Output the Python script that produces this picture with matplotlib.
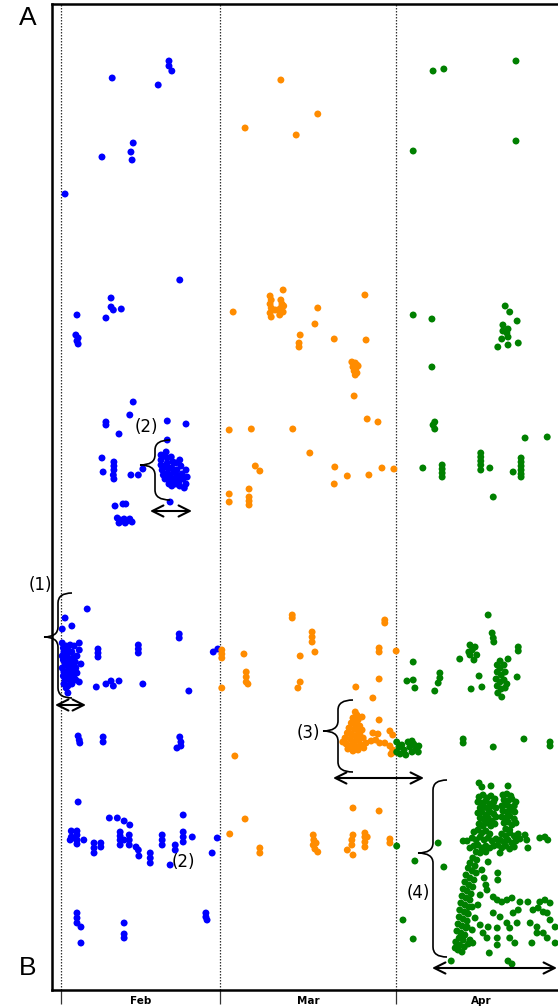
import numpy as np
import matplotlib.pyplot as plt
import matplotlib.transforms as mtransforms
from matplotlib.path import Path
from matplotlib.patches import PathPatch

# x = days since 1 Feb, y = position between A (top) and B (bottom)
month_starts = [0, 28, 59]
month_mids = [14, 43.5, 74]
month_names = ["Feb", "Mar", "Apr"]

feb_pts = [
    (9.0, 78), (17.1, 85), (19.0, 61), (19.0, 66), (19.5, 71), (12.7, 143), (12.3, 152), (12.5, 160),
    (7.2, 157), (0.7, 194), (20.9, 280), (2.8, 315), (8.8, 298), (8.8, 307), (9.2, 310), (10.6, 309),
    (7.9, 318), (2.6, 335), (3.0, 338), (2.8, 341), (3.0, 344),
    (12.7, 402), (12.1, 415), (7.9, 422), (7.9, 425), (10.2, 434), (18.7, 421), (22.0, 424), (18.7, 440),
    (7.2, 458), (7.4, 472), (9.3, 462), (9.3, 466), (9.3, 470), (9.2, 475), (9.3, 479), (12.3, 475),
    (13.6, 475), (14.4, 469),
    (17.6, 455), (17.6, 460), (17.6, 465), (17.8, 470), (18.0, 456), (18.5, 452), (18.7, 458), (18.7, 463),
    (18.8, 468), (18.8, 473), (19.2, 476), (19.4, 480), (19.5, 468), (19.7, 462), (19.9, 472), (20.1, 478),
    (20.2, 484), (20.4, 470), (20.6, 476), (20.8, 481), (20.9, 486), (21.1, 466), (21.3, 474), (21.5, 479),
    (21.7, 488), (22.0, 470), (22.2, 477), (22.0, 484), (18.0, 475), (18.3, 479), (19.0, 484), (19.5, 486),
    (18.5, 466), (19.4, 457), (20.9, 460), (20.2, 463),
    (19.2, 502), (9.5, 506), (10.9, 504), (11.4, 504), (9.9, 518), (10.4, 520), (11.1, 519), (11.6, 521),
    (12.1, 519), (12.5, 522), (10.2, 523), (11.3, 523),
    (4.6, 609), (0.7, 618), (1.9, 626), (0.2, 629),
    (0.2, 643), (0.4, 648), (0.5, 652), (0.2, 656), (0.4, 660), (0.7, 664), (0.2, 668), (0.5, 672),
    (0.4, 676), (0.7, 680), (0.5, 684), (0.9, 688), (1.2, 693), (0.9, 646), (1.2, 650), (1.1, 656),
    (1.4, 661), (1.2, 666), (1.1, 671), (1.4, 676), (1.6, 681), (1.2, 686), (1.9, 652), (2.1, 658),
    (1.8, 664), (2.1, 669), (1.9, 674), (2.3, 678), (1.9, 684), (2.5, 662), (2.6, 668), (2.8, 673),
    (2.6, 680), (3.2, 643), (3.2, 650), (3.5, 664), (3.2, 682), (2.3, 646), (1.6, 645), (2.8, 656),
    (6.5, 649), (6.5, 653), (6.5, 657), (13.6, 645), (13.6, 649), (13.6, 653), (20.8, 634), (20.8, 638),
    (6.2, 687), (7.9, 684), (8.8, 681), (9.2, 686), (10.2, 681), (14.4, 684), (22.5, 691), (26.8, 652),
    (27.6, 649),
    (3.0, 736), (3.2, 740), (3.3, 743), (7.4, 737), (7.4, 742), (20.9, 737), (21.1, 742), (20.4, 748),
    (21.1, 746),
    (3.0, 802), (8.5, 818), (9.9, 818), (11.1, 821), (12.1, 825), (21.5, 815), (1.8, 831), (1.8, 837),
    (1.6, 840), (2.8, 831), (2.8, 835), (2.8, 840), (2.8, 844), (2.1, 838), (4.0, 840), (5.8, 843),
    (5.8, 848), (5.8, 853), (7.0, 843), (7.0, 847), (10.4, 832), (10.4, 836), (10.4, 840), (10.4, 845),
    (12.0, 835), (12.0, 840), (12.0, 845), (11.1, 840), (13.2, 847), (13.6, 850), (13.7, 856), (15.7, 853),
    (15.7, 858), (15.7, 863), (17.8, 835), (17.8, 840), (17.8, 845), (20.1, 845), (20.1, 850), (19.2, 865),
    (21.5, 832), (21.5, 837), (21.5, 842), (23.1, 837), (26.6, 853), (27.5, 838),
    (2.8, 913), (2.8, 918), (2.8, 923), (3.5, 927), (3.5, 943), (11.1, 923), (11.1, 934), (11.1, 938),
    (25.5, 913), (25.5, 917), (25.7, 920),
]

mar_pts = [
    (38.7, 80), (32.4, 128), (45.2, 114), (41.4, 135),
    (53.5, 295), (39.1, 290), (36.8, 296), (37.0, 300), (36.8, 304), (37.0, 308), (36.8, 313), (37.0, 317),
    (38.7, 300), (38.9, 304), (38.7, 308), (39.1, 312), (38.5, 315), (39.2, 306), (38.2, 310), (37.7, 310),
    (30.3, 312), (45.2, 308), (44.7, 324), (42.1, 335), (41.9, 343), (41.9, 347), (48.1, 339), (53.7, 340),
    (51.2, 362), (51.8, 363), (52.1, 365), (51.4, 367), (51.9, 369), (51.6, 371), (52.1, 373), (51.8, 375),
    (52.3, 366), (51.6, 396), (53.9, 419), (55.8, 422),
    (29.6, 430), (33.5, 429), (40.8, 429), (43.8, 453), (34.2, 466), (35.0, 471), (48.2, 467), (50.4, 476),
    (54.2, 475), (56.5, 468), (58.6, 469), (48.1, 484), (29.6, 494), (29.6, 502), (33.1, 489), (33.1, 497),
    (33.1, 501), (33.1, 505),
    (28.3, 650), (28.3, 654), (28.3, 658), (28.3, 688), (32.2, 654), (32.6, 672), (32.6, 677), (32.6, 682),
    (32.9, 684), (40.7, 615), (40.7, 618), (44.2, 632), (44.2, 637), (44.2, 642), (44.7, 652), (42.1, 656),
    (42.1, 682), (41.7, 688), (57.0, 620), (57.0, 623), (56.0, 648), (56.0, 652), (59.0, 651), (56.0, 679),
    (51.9, 687), (54.9, 698), (56.0, 720), (53.0, 717), (30.6, 756),
    (51.8, 712), (52.1, 715), (51.4, 718), (52.3, 720), (51.1, 723), (51.9, 724), (52.6, 726), (50.7, 728),
    (51.6, 729), (52.3, 731), (50.4, 733), (51.2, 734), (51.9, 736), (52.6, 734), (50.0, 738), (50.9, 739),
    (51.8, 741), (52.5, 740), (53.2, 738), (50.2, 744), (51.1, 745), (51.9, 746), (52.8, 745), (50.5, 749),
    (51.4, 751), (52.3, 750), (53.3, 748), (53.7, 743), (49.6, 742), (53.0, 730),
    (54.9, 733), (55.8, 734), (55.4, 740), (56.1, 743), (54.6, 741), (57.0, 743), (57.9, 731), (58.4, 735),
    (57.9, 746), (58.4, 750), (58.1, 754), (58.8, 752),
    (51.4, 808), (56.0, 811), (44.4, 835), (44.5, 840), (44.4, 845), (44.7, 849), (45.2, 852), (44.9, 843),
    (51.4, 835), (51.2, 840), (51.2, 845), (50.4, 850), (51.4, 855), (53.5, 833), (53.5, 837), (53.5, 842),
    (53.5, 847), (53.9, 837), (57.9, 839), (57.9, 843), (29.7, 834), (32.4, 819), (35.0, 848), (35.0, 853),
]

apr_pts = [
    (65.5, 71), (67.4, 69), (80.1, 61), (62.0, 151), (80.1, 141),
    (62.0, 315), (65.3, 319), (78.2, 306), (79.0, 312), (80.3, 321), (77.8, 325), (77.8, 331), (78.7, 329),
    (78.5, 333), (78.7, 337), (77.6, 339), (80.5, 343), (78.7, 345), (76.9, 347), (65.3, 367),
    (65.8, 422), (65.5, 425), (65.8, 429), (81.7, 438), (85.6, 437), (63.7, 468), (67.1, 465), (67.1, 469),
    (67.1, 473), (67.1, 477), (73.9, 453), (73.9, 457), (73.9, 461), (73.9, 465), (73.9, 470), (75.5, 468),
    (81.0, 458), (81.0, 462), (81.0, 466), (81.0, 470), (81.0, 474), (81.0, 477), (79.6, 472), (76.1, 497),
    (75.2, 615), (75.9, 633), (76.1, 638), (76.2, 642), (72.0, 645), (72.4, 650), (72.0, 655), (72.7, 660),
    (71.8, 652), (72.9, 647), (73.2, 655), (70.2, 659), (80.5, 647), (80.5, 651), (78.7, 659), (62.0, 662),
    (60.9, 681), (62.0, 680), (62.3, 688), (66.7, 673), (66.7, 678), (66.4, 683), (65.8, 691), (73.6, 676),
    (72.2, 689), (74.1, 687), (80.3, 677),
    (76.8, 665), (77.3, 668), (78.0, 665), (76.8, 672), (77.5, 675), (78.2, 672), (76.6, 679), (77.3, 682),
    (78.0, 680), (78.5, 684), (76.8, 686), (77.5, 689), (78.2, 688), (76.9, 693), (77.6, 697), (77.3, 661),
    (59.1, 742), (59.5, 747), (59.1, 752), (60.0, 745), (60.4, 750), (61.1, 742), (61.4, 747), (61.8, 752),
    (62.1, 744), (62.5, 749), (63.0, 746), (62.9, 752), (60.7, 755), (59.7, 754), (61.8, 741), (70.8, 739),
    (70.8, 743), (76.1, 747), (81.5, 739), (86.1, 742), (86.1, 746),
    (59.1, 846), (66.4, 843), (62.3, 861), (67.4, 867), (60.2, 920), (62.0, 939), (73.6, 783), (74.1, 787),
    (75.7, 786), (78.7, 786), (68.7, 961), (78.7, 961), (79.4, 964),
    (73.6, 797), (74.3, 795), (75.0, 798), (75.7, 796), (76.4, 799), (73.4, 802), (74.1, 803), (74.8, 801),
    (75.5, 804), (76.2, 802), (73.8, 808), (74.5, 807), (75.2, 809), (75.9, 806), (76.6, 808), (73.4, 813),
    (74.1, 812), (74.8, 815), (75.5, 812), (76.2, 814), (73.8, 818), (74.5, 820), (75.2, 818), (75.9, 821),
    (76.6, 817), (73.6, 824), (74.3, 826), (75.0, 823), (75.7, 826), (76.4, 824),
    (77.8, 795), (78.5, 794), (79.2, 796), (78.0, 800), (78.7, 801), (79.4, 799), (80.1, 802), (77.6, 806),
    (78.3, 805), (79.0, 807), (79.8, 806), (77.8, 811), (78.5, 812), (79.2, 810), (79.9, 812), (77.6, 817),
    (78.3, 818), (79.0, 816), (79.8, 819), (78.0, 823), (78.7, 822), (79.4, 825), (80.1, 823), (78.3, 829),
    (79.0, 830),
    (72.7, 832), (73.4, 830), (74.1, 833), (74.8, 831), (75.5, 834), (77.6, 834), (78.3, 836), (79.0, 833),
    (79.8, 836), (80.5, 834), (72.4, 838), (73.1, 840), (73.8, 837), (74.5, 840), (75.2, 838), (75.9, 841),
    (76.6, 839), (77.3, 840), (78.0, 842), (78.7, 840), (79.4, 843), (80.1, 841), (80.8, 839), (72.7, 846),
    (73.4, 845), (74.1, 848), (74.8, 846), (75.5, 848), (76.2, 846), (76.9, 845), (77.6, 848), (78.3, 846),
    (79.0, 849), (79.8, 847), (73.1, 852), (73.8, 853), (74.8, 852), (77.3, 853),
    (81.7, 835), (82.0, 840), (82.2, 848), (84.3, 838), (85.2, 837), (85.7, 840), (70.8, 841), (71.5, 841),
    (72.0, 848),
    (72.5, 858), (73.2, 860), (72.0, 863), (72.9, 866), (71.7, 868), (72.4, 871), (73.1, 873), (71.3, 875),
    (72.0, 878), (72.7, 880), (71.1, 882), (71.8, 885), (72.5, 887), (70.8, 889), (71.5, 891), (72.2, 894),
    (70.6, 896), (71.3, 898), (72.0, 900), (70.4, 903), (71.1, 905), (71.8, 907), (70.2, 910), (71.0, 912),
    (71.7, 914), (70.1, 917), (70.8, 919), (71.5, 921), (69.9, 924), (70.6, 926), (71.3, 928), (69.7, 931),
    (70.4, 933), (71.1, 935), (70.1, 938), (70.8, 940), (69.5, 942), (70.2, 945), (71.0, 947), (69.9, 950),
    (70.6, 952), (69.4, 948), (72.0, 940), (72.4, 930), (71.7, 944), (72.9, 918), (73.4, 905), (73.8, 895),
    (74.5, 878), (74.1, 870), (75.2, 862), (74.8, 885), (73.8, 925),
    (76.9, 873), (76.9, 880), (75.0, 890), (76.1, 897), (76.8, 900), (77.6, 902), (78.5, 900), (79.4, 898),
    (80.8, 902), (82.2, 902), (84.3, 902), (85.2, 900), (86.1, 903), (79.6, 913), (80.5, 910), (83.1, 910),
    (84.0, 908), (84.9, 912), (76.1, 913), (77.3, 917), (75.2, 927), (76.8, 928), (78.5, 923), (79.0, 928),
    (80.3, 923), (82.6, 923), (83.8, 927), (83.8, 933), (85.6, 913), (86.1, 920), (87.0, 927), (87.0, 943),
    (79.0, 938), (79.9, 943), (76.8, 938), (76.8, 945), (75.0, 938), (75.4, 953), (72.5, 943), (71.5, 927),
    (71.5, 913), (72.4, 907), (84.9, 933), (85.6, 938), (82.9, 943), (74.3, 933),
]

W, H = 558, 1007
fig = plt.figure(figsize=(W / 100, H / 100), dpi=100)
ax = fig.add_axes([52 / W, 1 - 990 / H, 1 - 52 / W, 986 / H])

for pts, col in [(feb_pts, "#0000ff"), (mar_pts, "#ff8c00"), (apr_pts, "#008000")]:
    p = np.array(pts)
    ax.scatter(p[:, 0], p[:, 1], s=25, color=col, edgecolors="none", zorder=3)

for d in month_starts:
    ax.axvline(d, color="#333333", lw=0.9, ls=(0, (1.2, 1.2)), zorder=1)

ax.set_xlim(-1.6, 87.5)
ax.set_ylim(990, 4)
ax.set_yticks([])
ax.set_xticks(month_starts)
ax.set_xticklabels([])
ax.set_xticks(month_mids, month_names, minor=True)
ax.tick_params(axis="x", which="major", length=10, width=0.9, color="#333333")
ax.tick_params(axis="x", which="minor", length=0, pad=4, labelsize=7.5)
for lab in ax.get_xticklabels(minor=True):
    lab.set_fontweight("bold")
ax.spines["right"].set_visible(False)
for s in ["left", "top", "bottom"]:
    ax.spines[s].set_linewidth(1.8)

# overlay in image pixel coords for annotations
pix = mtransforms.Affine2D().scale(1 / W, -1 / H).translate(0, 1) + fig.transFigure


def brace(xt, xb, xe, y0, ym, y1, r=10):
    verts = [(xe, y0), (xb, y0), (xb, y0 + r), (xb, ym - r), (xb, ym), (xt, ym),
             (xb, ym), (xb, ym + r), (xb, y1 - r), (xb, y1), (xe, y1)]
    codes = [Path.MOVETO, Path.CURVE3, Path.CURVE3, Path.LINETO, Path.CURVE3, Path.CURVE3,
             Path.CURVE3, Path.CURVE3, Path.LINETO, Path.CURVE3, Path.CURVE3]
    fig.add_artist(PathPatch(Path(verts, codes), fill=False, lw=1.2, ec="black", transform=pix))


def darrow(x0, x1, y):
    ax.annotate("", xy=(x1, y), xytext=(x0, y), xycoords=pix, textcoords=pix,
                annotation_clip=False,
                arrowprops=dict(arrowstyle="<->", lw=1.5, color="black",
                                mutation_scale=20, shrinkA=0, shrinkB=0))


brace(44, 58, 72, 593, 637, 698)
brace(140, 155, 170, 440, 465, 500)
brace(323, 338, 353, 700, 731, 772)
brace(418, 433, 447, 780, 853, 957)

darrow(55, 86, 705)
darrow(150, 192, 511)
darrow(333, 424, 778)
darrow(432, 557, 968)

for txt, x, y in [("(1)", 40, 585), ("(2)", 146, 427), ("(2)", 183, 862), ("(3)", 308, 733), ("(4)", 418, 893)]:
    fig.text(x, y, txt, transform=pix, ha="center", va="center", fontsize=12)

fig.text(28, 18, "A", transform=pix, ha="center", va="center", fontsize=19, family="Liberation Sans")
fig.text(28, 968, "B", transform=pix, ha="center", va="center", fontsize=19, family="Liberation Sans")

fig.savefig("out.png", dpi=100)
